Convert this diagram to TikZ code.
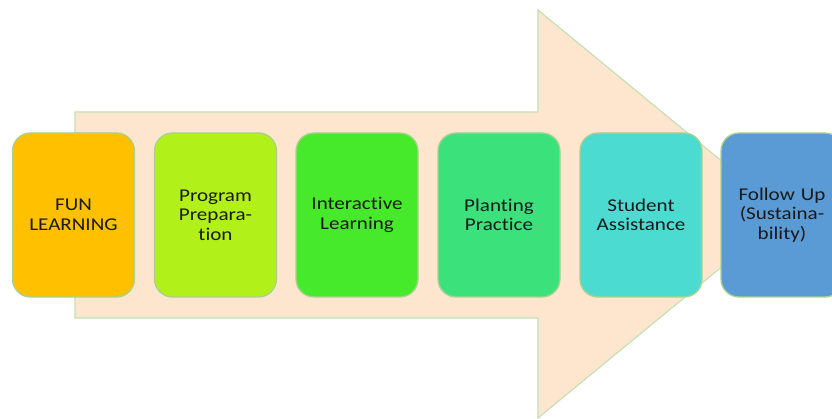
\documentclass[tikz,border=0pt]{standalone}
\usepackage{fontspec}
\setmainfont{Carlito}[FakeStretch=1.17, RawFeature={-liga}]
\begin{document}
\begin{tikzpicture}[x=1pt,y=-1pt,
  stage/.style={draw=stageedge, line width=1.3pt, rounded corners=18pt,
    minimum width=122pt, minimum height=164pt, text width=116pt, align=center,
    inner sep=0pt, font=\fontsize{18}{19.5}\selectfont, text=black!90},
]
\definecolor{arrowfill}{HTML}{FDE6CD}
\definecolor{arrowedge}{HTML}{C5E0B4}
\definecolor{stageedge}{HTML}{A9D18E}
\definecolor{cA}{HTML}{FFC000}
\definecolor{cB}{HTML}{B2F01A}
\definecolor{cC}{HTML}{47EA2A}
\definecolor{cD}{HTML}{3BE27C}
\definecolor{cE}{HTML}{4BDBD0}
\definecolor{cF}{HTML}{5B9BD5}
\useasboundingbox (0,0) rectangle (832,419);
\begin{scope}
\clip (0,0) rectangle (832,419);
% large background arrow
\draw[fill=arrowfill, draw=arrowedge, line width=1.2pt]
  (75,112) -- (538,112) -- (538,10) -- (786,214) -- (538,418) -- (538,318) -- (75,318) -- cycle;
% process stages
\node[stage, fill=cA] (s1) at (73.5,215) {FUN\\LEARNING};
\node[stage, fill=cB] (s2) at (215.5,215) {Program\\Prepara-\\tion};
\node[stage, fill=cC] (s3) at (357,215) {Interactive\\Learning};
\node[stage, fill=cD] (s4) at (499,215) {Planting\\Practice};
\node[stage, fill=cE] (s5) at (641,215) {Student\\Assistance};
\node[stage, fill=cF] (s6) at (782,215) {Follow Up\\(Sustaina-\\bility)};
\end{scope}
\end{tikzpicture}
\end{document}
